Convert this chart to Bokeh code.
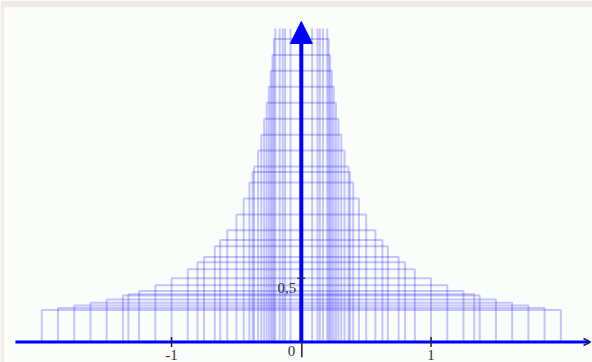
import math
from bokeh.plotting import figure
from bokeh.models import Range1d, Arrow, NormalHead, OpenHead
from bokeh.core.properties import value
from bokeh.embed import file_html
from bokeh.resources import INLINE

# Unit-area rectangles centred on 0: half-width a, height 1/(2a)
# set stepped in half-width
wide_half_widths = [0.125, 0.25, 0.375, 0.5, 0.625, 0.75, 0.875, 1.0,
                    1.125, 1.25, 1.375, 1.5, 1.625, 1.75, 1.875, 2.0]
wide_heights = [4.0, 2.0, 1.333, 1.0, 0.8, 0.667, 0.571, 0.5,
                0.444, 0.4, 0.364, 0.333, 0.308, 0.286, 0.267, 0.25]
# set stepped in height
tall_half_widths = [1.333, 0.8, 0.667, 0.571, 0.444, 0.4, 0.364, 0.333,
                    0.308, 0.286, 0.267, 0.235, 0.222, 0.211]
tall_heights = [0.375, 0.625, 0.75, 0.875, 1.125, 1.25, 1.375, 1.5,
                1.625, 1.75, 1.875, 2.125, 2.25, 2.375]
# narrow ones that run off the top
spike_half_widths = [0.2, 0.1667, 0.1429, 0.0833]
spike_heights = [2.5, 3.0, 3.5, 6.0]

x_ticks = [-1, 1]
x_tick_labels = ["-1", "1"]
y_tick = 0.5
y_tick_label = "0,5"

X_LO, X_HI = -2.2875, 2.2443
Y_LO, Y_HI = -0.1607, 2.6215
CLIP = 2.457
X_AXIS_START, X_AXIS_END = -2.203, 2.229
Y_ARROW_TIP = 2.512

p = figure(width=592, height=362,
           x_range=Range1d(X_LO, X_HI), y_range=Range1d(Y_LO, Y_HI),
           output_backend="svg", toolbar_location=None,
           x_axis_location=None, y_axis_location=None,
           min_border_left=4, min_border_top=7,
           min_border_right=0, min_border_bottom=0,
           background_fill_color="#fbfdfb", border_fill_color="#efebe7")
p.outline_line_color = None
p.xgrid.grid_line_color = None
p.ygrid.grid_line_color = None

xs, ys = [], []
all_a = wide_half_widths + tall_half_widths + spike_half_widths
all_h = wide_heights + tall_heights + spike_heights
for a, h in zip(all_a, all_h):
    if h <= CLIP:
        xs.append([-a, -a, a, a])
        ys.append([0, h, h, 0])
    else:
        xs.append([-a, -a])
        ys.append([0, CLIP])
        xs.append([a, a])
        ys.append([0, CLIP])

p.multi_line(xs, ys, line_color="blue", line_alpha=0.22, line_width=2)

# axes
p.add_layout(Arrow(x_start=X_AXIS_START, y_start=0, x_end=X_AXIS_END, y_end=0,
                   line_color="blue", line_width=3,
                   end=OpenHead(size=7, line_color="#222222", line_width=1.5)))
p.add_layout(Arrow(x_start=0, y_start=0, x_end=0, y_end=Y_ARROW_TIP,
                   line_color="blue", line_width=4,
                   end=NormalHead(size=22, fill_color="blue", line_color="blue")))

# ticks
p.scatter(x=x_ticks, y=[0] * len(x_ticks), marker="dash", angle=math.pi / 2,
          size=10, line_color="#222222", line_width=1.5, level="overlay")
p.scatter(x=[0], y=[y_tick], marker="dash", size=8,
          line_color="#222222", line_width=1.2, level="overlay")
p.segment(x0=[0.004], y0=[0], x1=[0.004], y1=[-0.12],
          line_color="#222222", line_width=1.5, level="overlay")

font = value("Liberation Serif")
p.text(x=x_ticks, y=[0] * len(x_ticks), text=x_tick_labels,
       text_align="center", text_baseline="top", y_offset=8,
       text_font=font, text_font_size="15px", text_color="#333333")
p.text(x=[0], y=[0], text=["0"], text_align="right", text_baseline="top",
       x_offset=-6, y_offset=4,
       text_font=font, text_font_size="15px", text_color="#333333")
p.text(x=[0], y=[y_tick], text=[y_tick_label], text_align="right",
       text_baseline="middle", x_offset=-5, y_offset=10,
       text_font=font, text_font_size="15px", text_color="#333333")

open("out.html", "w").write(file_html(p, INLINE))
